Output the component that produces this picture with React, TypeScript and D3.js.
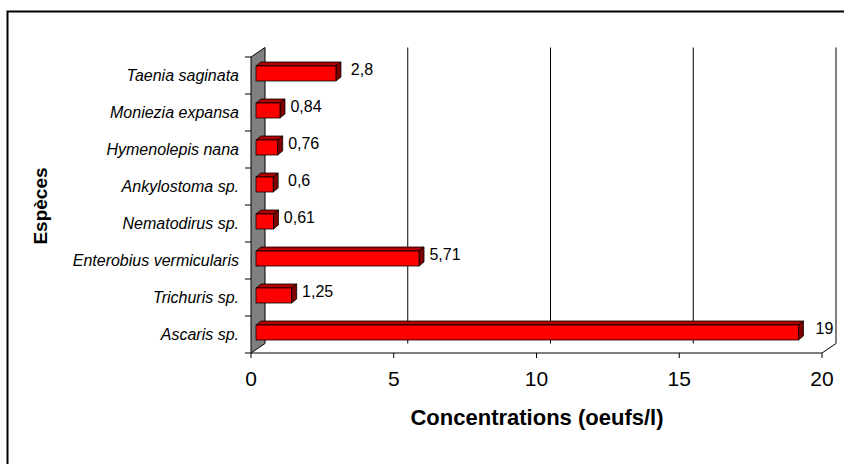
import React, { useRef, useEffect } from "react";
import * as d3 from "d3";

// données (du haut vers le bas)
const especes = [
    "Taenia saginata",
    "Moniezia expansa",
    "Hymenolepis nana",
    "Ankylostoma sp.",
    "Nematodirus sp.",
    "Enterobius vermicularis",
    "Trichuris sp.",
    "Ascaris sp.",
];
const concentrations = [2.8, 0.84, 0.76, 0.6, 0.61, 5.71, 1.25, 19];
const labelsValeurs = ["2,8", "0,84", "0,76", "0,6", "0,61", "5,71", "1,25", "19"];
const xTicks = [0, 5, 10, 15, 20];

const W = 844;
const H = 464;

const Chart = () => {
    const svgRef = useRef<SVGSVGElement>(null);

    useEffect(() => {
        if (!svgRef.current) return;
        d3.select(svgRef.current).selectAll("*").remove();

        const svg = d3.select(svgRef.current).attr("width", W).attr("height", H);

        // cadre extérieur
        svg.append("rect")
            .attr("x", 7.5)
            .attr("y", 11.5)
            .attr("width", 900)
            .attr("height", 600)
            .attr("fill", "#fff")
            .attr("stroke", "#000")
            .attr("stroke-width", 2);

        // profondeur 3D
        const dx = 14;
        const dy = -9.5;

        const x = d3.scaleLinear().domain([0, 20]).range([251, 822]);
        const y = d3.scaleBand().domain(especes).range([57, 353]);
        const bottom = 353;
        const top = 57;

        // mur gris à gauche
        svg.append("path")
            .attr("d", `M${x(0)},${top} L${x(0) + dx},${top + dy} L${x(0) + dx},${bottom + dy} L${x(0)},${bottom} Z`)
            .attr("fill", "#808080")
            .attr("stroke", "#000")
            .attr("stroke-width", 1);

        // quadrillage vertical (mur du fond)
        svg.append("g")
            .selectAll("line")
            .data(xTicks.slice(1))
            .enter()
            .append("line")
            .attr("x1", (d) => x(d) + dx)
            .attr("x2", (d) => x(d) + dx)
            .attr("y1", top + dy)
            .attr("y2", bottom + dy)
            .attr("stroke", "#000")
            .attr("stroke-width", 1);

        // sol
        svg.append("path")
            .attr("d", `M${x(0)},${bottom} L${x(20)},${bottom} L${x(20) + dx},${bottom + dy}`)
            .attr("fill", "none")
            .attr("stroke", "#000")
            .attr("stroke-width", 1);

        // graduations x
        svg.append("g")
            .selectAll("line")
            .data(xTicks)
            .enter()
            .append("line")
            .attr("x1", (d) => x(d))
            .attr("x2", (d) => x(d))
            .attr("y1", bottom)
            .attr("y2", bottom + 5)
            .attr("stroke", "#000");

        svg.append("g")
            .selectAll("text")
            .data(xTicks)
            .enter()
            .append("text")
            .attr("x", (d) => x(d))
            .attr("y", 386)
            .attr("text-anchor", "middle")
            .style("font-family", "Arial, 'Liberation Sans', sans-serif")
            .style("font-size", "21px")
            .text((d) => d);

        // graduations y
        const yBounds = especes.map((e) => y(e) as number).concat([bottom]);
        svg.append("g")
            .selectAll("line")
            .data(yBounds)
            .enter()
            .append("line")
            .attr("x1", x(0) - 6)
            .attr("x2", x(0))
            .attr("y1", (d) => d)
            .attr("y2", (d) => d)
            .attr("stroke", "#000");

        svg.append("g")
            .selectAll("text")
            .data(especes)
            .enter()
            .append("text")
            .attr("x", 239)
            .attr("y", (d) => (y(d) as number) + y.bandwidth() / 2 + 5)
            .attr("text-anchor", "end")
            .style("font-family", "Arial, 'Liberation Sans', sans-serif")
            .style("font-style", "italic")
            .style("font-size", "16px")
            .text((d) => d);

        // barres 3D
        const x0 = x(0) + 5;
        const bh = 15;
        const bdx = 5;
        const bdy = -4;
        const unit = x(1) - x(0);

        const bars = svg.append("g")
            .selectAll("g")
            .data(especes.map((e, i) => ({ e, v: concentrations[i], lab: labelsValeurs[i] })))
            .enter()
            .append("g");

        const fy = (d: { e: string }) => (y(d.e) as number) + y.bandwidth() / 2 - 2 - bh / 2;

        // face du dessus
        bars.append("path")
            .attr("d", (d) => {
                const y0 = fy(d);
                const x1 = x0 + d.v * unit;
                return `M${x0},${y0} L${x0 + bdx},${y0 + bdy} L${x1 + bdx},${y0 + bdy} L${x1},${y0} Z`;
            })
            .attr("fill", "#B00000")
            .attr("stroke", "#000")
            .attr("stroke-width", 0.8);

        // face de côté
        bars.append("path")
            .attr("d", (d) => {
                const y0 = fy(d);
                const x1 = x0 + d.v * unit;
                return `M${x1},${y0} L${x1 + bdx},${y0 + bdy} L${x1 + bdx},${y0 + bdy + bh} L${x1},${y0 + bh} Z`;
            })
            .attr("fill", "#800000")
            .attr("stroke", "#000")
            .attr("stroke-width", 0.8);

        // face avant
        bars.append("rect")
            .attr("x", x0)
            .attr("y", (d) => fy(d))
            .attr("width", (d) => d.v * unit)
            .attr("height", bh)
            .attr("fill", "#FF0000")
            .attr("stroke", "#000")
            .attr("stroke-width", 0.8);

        // étiquettes de valeurs
        bars.append("text")
            .attr("x", (d) => x0 + d.v * unit + bdx + 21)
            .attr("y", (d) => (y(d.e) as number) + y.bandwidth() / 2 - 1)
            .attr("text-anchor", "middle")
            .style("font-family", "Arial, 'Liberation Sans', sans-serif")
            .style("font-size", "16px")
            .text((d) => d.lab);

        // titres des axes
        svg.append("text")
            .attr("x", 537)
            .attr("y", 425)
            .attr("text-anchor", "middle")
            .style("font-family", "Arial, 'Liberation Sans', sans-serif")
            .style("font-weight", "bold")
            .style("font-size", "22px")
            .text("Concentrations (oeufs/l)");

        svg.append("text")
            .attr("transform", "translate(47,206) rotate(-90)")
            .attr("text-anchor", "middle")
            .style("font-family", "Arial, 'Liberation Sans', sans-serif")
            .style("font-weight", "bold")
            .style("font-size", "19px")
            .text("Espèces");
    }, []);

    return (
        <svg
            ref={svgRef}
            style={{ position: "absolute", left: 0, top: 0, display: "block" }}
        />
    );
};

export default function App() {
    return <Chart />;
}
